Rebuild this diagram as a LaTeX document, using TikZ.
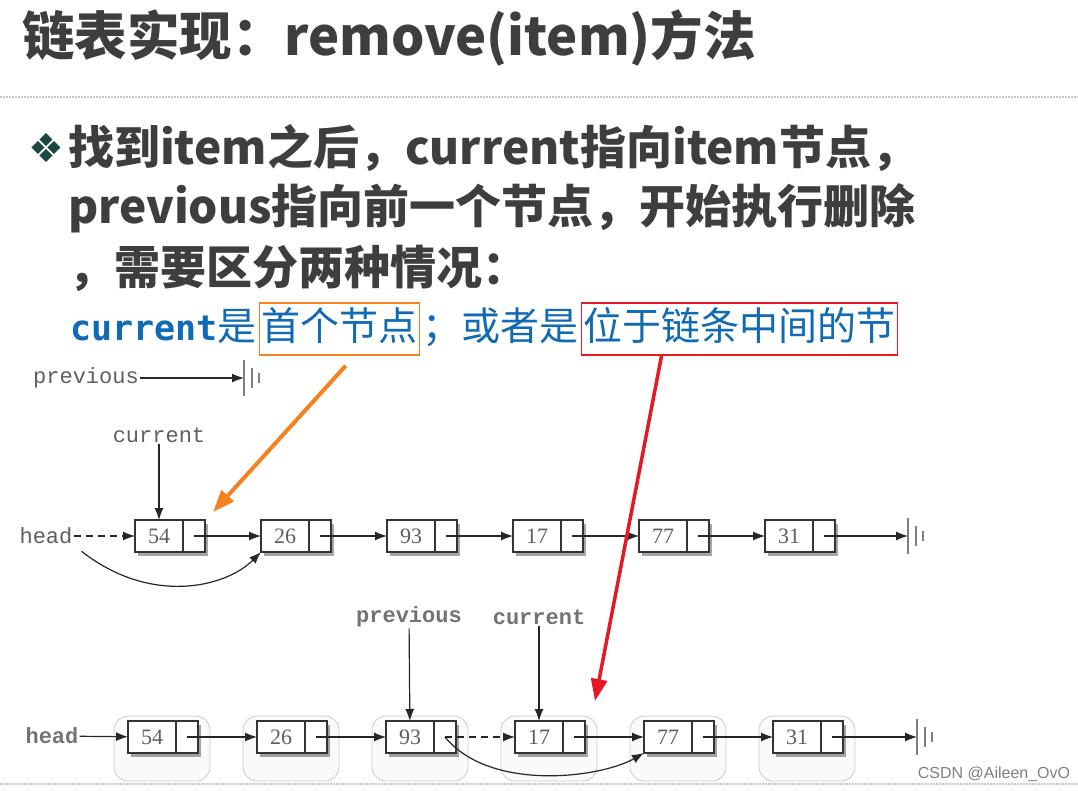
\documentclass[tikz,border=0pt]{standalone}
\usepackage{fontspec}
\usetikzlibrary{positioning, arrows.meta, shadows, calc}
\setmainfont{Liberation Serif}
\newfontfamily\cjkfont{Noto Sans CJK SC}
\newfontfamily\codefont{Liberation Mono}
\newfontfamily\consfont{DejaVu Sans Mono}
\newfontfamily\wmfont{Liberation Sans}
\newfontfamily\symfont{DejaVu Sans}
\definecolor{TitleGray}{RGB}{62,62,62}
\definecolor{LinkBlue}{RGB}{16,106,180}
\definecolor{MarkOrange}{RGB}{245,130,32}
\definecolor{MarkRed}{RGB}{230,24,36}
\definecolor{BulletGreen}{RGB}{28,72,66}
\definecolor{DiagGray}{RGB}{95,95,95}

\newcommand{\nilsym}[1]{%
  \draw[nilline] (#1) ++(0,-18) -- ++(0,36)
    (#1) ++(8,-10) -- ++(0,20)
    (#1) ++(15,-5) -- ++(0,10);}

\tikzset{
  titletext/.style={font=\cjkfont\bfseries\fontsize{52.5}{52.5}\selectfont, text=TitleGray, inner sep=0pt},
  bodytext/.style={font=\cjkfont\bfseries\fontsize{46}{46}\selectfont, text=TitleGray, inner sep=0pt},
  bluetext/.style={font=\cjkfont\fontsize{39}{39}\selectfont, text=LinkBlue, text height=31pt, text depth=7pt, inner xsep=2pt, inner ysep=7pt},
  markbox/.style={draw=#1, line width=1.5pt},
  databox/.style={draw=black!80, fill=white, line width=1.2pt, minimum width=48pt, minimum height=32pt, inner sep=0pt, outer sep=0pt, font=\fontsize{22}{22}\selectfont, text=DiagGray, drop shadow={shadow xshift=3pt, shadow yshift=-4pt, opacity=0.35, fill=black}},
  ptrbox/.style={databox, minimum width=22pt},
  varlabel/.style={font=\codefont\fontsize{22}{22}\selectfont, text=DiagGray, inner sep=1pt},
  varlabelb/.style={varlabel, font=\codefont\bfseries\fontsize{22}{22}\selectfont, text=black!55},
  link/.style={-{Latex[length=12pt,width=9pt]}, line width=1.2pt, black!85},
  nilline/.style={line width=1.6pt, gray},
  blob/.style={draw=gray!40, fill=gray!4, line width=0.8pt, rounded corners=14pt},
  sepline/.style={gray!45, line width=1.5pt, dash pattern=on 1.5pt off 1.5pt},
  orangearrow/.style={-{Triangle[length=22pt,width=16pt]}, line width=4pt, MarkOrange},
  redarrow/.style={-{Triangle[length=22pt,width=16pt]}, line width=3.5pt, MarkRed}
}

\begin{document}
\begin{tikzpicture}[x=1pt, y=-1pt]
\fill[white] (0,0) rectangle (1078,791);
\useasboundingbox (0,0) rectangle (1078,791);

% title
\node[titletext, anchor=west] (title) at (22,38) {链表实现：remove(item)方法};
\draw[sepline] (0,97) -- (1078,97);

% bullet text
\node[font=\symfont\fontsize{40}{40}\selectfont, text=BulletGreen] (dia) at (46,148) {❖};
\node[bodytext, anchor=west] (line1) at (68,148) {找到item之后，current指向item节点，};
\node[bodytext, anchor=west] (line2) at (68,208) {previous指向前一个节点，开始执行删除};
\node[bodytext, anchor=west] (line3) at (68,268) {，需要区分两种情况：};

% blue line with marked parts
\node[bluetext, anchor=west] (bl1) at (68,329) {{\consfont\bfseries\fontsize{35}{35}\selectfont current}是};
\node[bluetext, markbox=MarkOrange, right=0pt of bl1] (bl2) {首个节点};
\node[bluetext, right=0pt of bl2] (bl3) {；或者是};
\node[bluetext, markbox=MarkRed, right=0pt of bl3] (bl4) {位于链条中间的节};

% case 1: current is the first node
\node[varlabel] (prev1) at (86,378) {previous};
\coordinate (nil1) at (244,378);
\draw[link] (prev1) -- (nil1);
\nilsym{nil1}

\foreach \v [count=\i] in {54,26,93,17,77,31} {
  \node[databox] (a\i) at ({33+126*\i},536) {\v};
  \node[ptrbox, right=0pt of a\i] (ap\i) {};
}
\foreach \i/\j in {1/2,2/3,3/4,4/5,5/6}
  \draw[link] (ap\i.center) -- (a\j.west);
\coordinate (nil2) at (908,536);
\draw[link] (ap6.center) -- (nil2);
\nilsym{nil2}

\node[varlabel] (h1) at (46,536) {head};
\draw[link, dash pattern=on 7pt off 5pt] (h1) -- (a1);
\draw[link] ($(h1.south east)+(8,6)$) .. controls (150,605) and (225,588) .. (a2.south west);
\node[varlabel] (cur1) at (159,435) {current};
\draw[link] (cur1) -- (a1);

% case 2: current is in the middle
\foreach \v [count=\i] in {54,26,93,17,77,31} {
  \draw[blob] ({23+129*\i-38},716) rectangle ({23+129*\i+58},781);
  \node[databox] (b\i) at ({23+129*\i},737) {\v};
  \node[ptrbox, right=0pt of b\i] (bp\i) {};
}
\foreach \i/\j in {1/2,2/3,4/5,5/6}
  \draw[link] (bp\i.center) -- (b\j.west);
\draw[link, dash pattern=on 7pt off 5pt] (bp3.center) -- (b4.west);
\coordinate (nil3) at (917,737);
\draw[link] (bp6.center) -- (nil3);
\nilsym{nil3}

\node[varlabelb] (h2) at (52,736) {head};
\draw[link] (h2) -- (b1);
\draw[link] (bp3.center) .. controls (490,792) and (600,778) .. (b5.south west);
\node[varlabelb] (prev2) at (409,617) {previous};
\draw[link] (prev2) -- (b3);
\node[varlabelb] (cur2) at (539,617) {current};
\draw[link] (cur2) -- (b4);

% highlight arrows
\draw[orangearrow] ($(bl2.south)+(6,10)$) -- ($(ap1.north east)+(8,-8)$);
\draw[redarrow] ($(bl4.south)+(-78,0)$) -- ($(bp4.north east)+(10,-20)$);

\draw[sepline] (0,784) -- (1078,784);
\node[font=\wmfont\fontsize{16}{16}\selectfont, text=gray] (mark) at (994,774) {CSDN @Aileen\_OvO};
\end{tikzpicture}
\end{document}
